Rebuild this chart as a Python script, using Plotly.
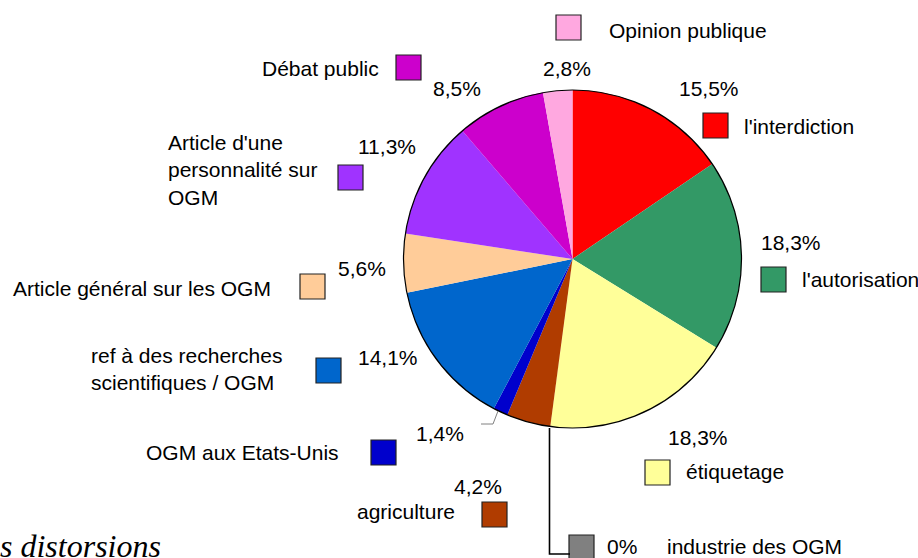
import plotly.graph_objects as go

# ---- data ----
categories = ["l'interdiction", "l'autorisation", "étiquetage", "industrie des OGM",
              "agriculture", "OGM aux Etats-Unis",
              "ref à des recherches<br>scientifiques / OGM",
              "Article général sur les OGM",
              "Article d'une<br>personnalité sur<br>OGM",
              "Débat public", "Opinion publique"]
values = [15.5, 18.3, 18.3, 0.0, 4.2, 1.4, 14.1, 5.6, 11.3, 8.5, 2.8]
colors = ["#FF0000", "#339966", "#FFFF99", "#808080", "#B03C00", "#0000CC",
          "#0066CC", "#FFCC99", "#A033FF", "#CC00CC", "#FFA8E0"]

def pct(v):
    return "0%" if v == 0 else f"{v:.1f}".replace(".", ",") + "%"

# ---- layout positions (pixels) ----
W, H = 918, 558
pie_box = (403.5, 90, 741.5, 428)  # x0, y0, x1, y1
# label: (x, y, xanchor)
label_pos = [(742, 126, "left"), (800, 279, "left"), (684, 471, "left"), (665, 546, "left"),
             (457, 511, "right"), (341, 452, "right"), (89, 369, "left"),
             (273, 288, "right"), (166, 170, "left"), (381, 68, "right"), (607, 30, "left")]
pct_pos = [(709, 88), (791, 242), (698, 437), (622, 546), (478, 486), (440, 433),
           (388, 357), (362, 268), (387, 146), (457, 88), (567, 68)]
square_pos = [(703, 113), (761, 267), (645, 460), (569, 535), (482, 502), (371, 440),
              (316, 358), (300, 274), (338, 165), (396, 55), (556, 15)]
SQ = 25

fig = go.Figure()
fig.add_trace(go.Pie(
    labels=[c.replace("<br>", " ") for c in categories], values=values,
    marker=dict(colors=colors, line=dict(width=0)),
    sort=False, direction="clockwise", rotation=0,
    textinfo="none", hoverinfo="label+percent", showlegend=False,
    domain=dict(x=[pie_box[0] / W, pie_box[2] / W], y=[1 - pie_box[3] / H, 1 - pie_box[1] / H]),
))

font = dict(family="Liberation Sans, Arial, sans-serif", size=21, color="black")
shapes = [dict(type="circle", xref="x", yref="y", x0=pie_box[0], y0=pie_box[1],
               x1=pie_box[2], y1=pie_box[3], line=dict(color="black", width=1.2))]
annotations = []
for cat, v, col, (lx, ly, la), (px, py), (sx, sy) in zip(categories, values, colors, label_pos, pct_pos, square_pos):
    annotations.append(dict(x=lx, y=ly, xref="x", yref="y", text=cat, showarrow=False,
                            xanchor=la, yanchor="middle", align="left", font=font))
    annotations.append(dict(x=px, y=py, xref="x", yref="y", text=pct(v), showarrow=False,
                            xanchor="center", yanchor="middle", font=font))
    shapes.append(dict(type="rect", xref="x", yref="y", x0=sx, y0=sy, x1=sx + SQ, y1=sy + SQ,
                       fillcolor=col, line=dict(color="#222222", width=1.2)))

# leader lines
shapes.append(dict(type="path", xref="x", yref="y", path="M 498,411 L 493,424 L 481,424",
                   line=dict(color="#808080", width=1)))
shapes.append(dict(type="path", xref="x", yref="y", path="M 549.5,428 L 549.5,554 L 570,554",
                   line=dict(color="black", width=1.6)))

annotations.append(dict(x=0, y=0, xref="paper", yref="paper", text="<i>s distorsions</i>", showarrow=False,
                        xanchor="left", yanchor="middle", xshift=-2, yshift=12,
                        font=dict(family="Liberation Serif, Times New Roman, serif", size=32, color="black")))

fig.update_layout(
    width=W, height=H, margin=dict(l=0, r=0, t=0, b=0),
    paper_bgcolor="white", plot_bgcolor="white",
    xaxis=dict(range=[0, W], visible=False, fixedrange=True),
    yaxis=dict(range=[H, 0], visible=False, fixedrange=True),
    shapes=shapes, annotations=annotations,
)
fig.write_html("out.html", config={"displayModeBar": False},
               post_script="document.body.style.margin='0';document.body.style.overflow='hidden';")
